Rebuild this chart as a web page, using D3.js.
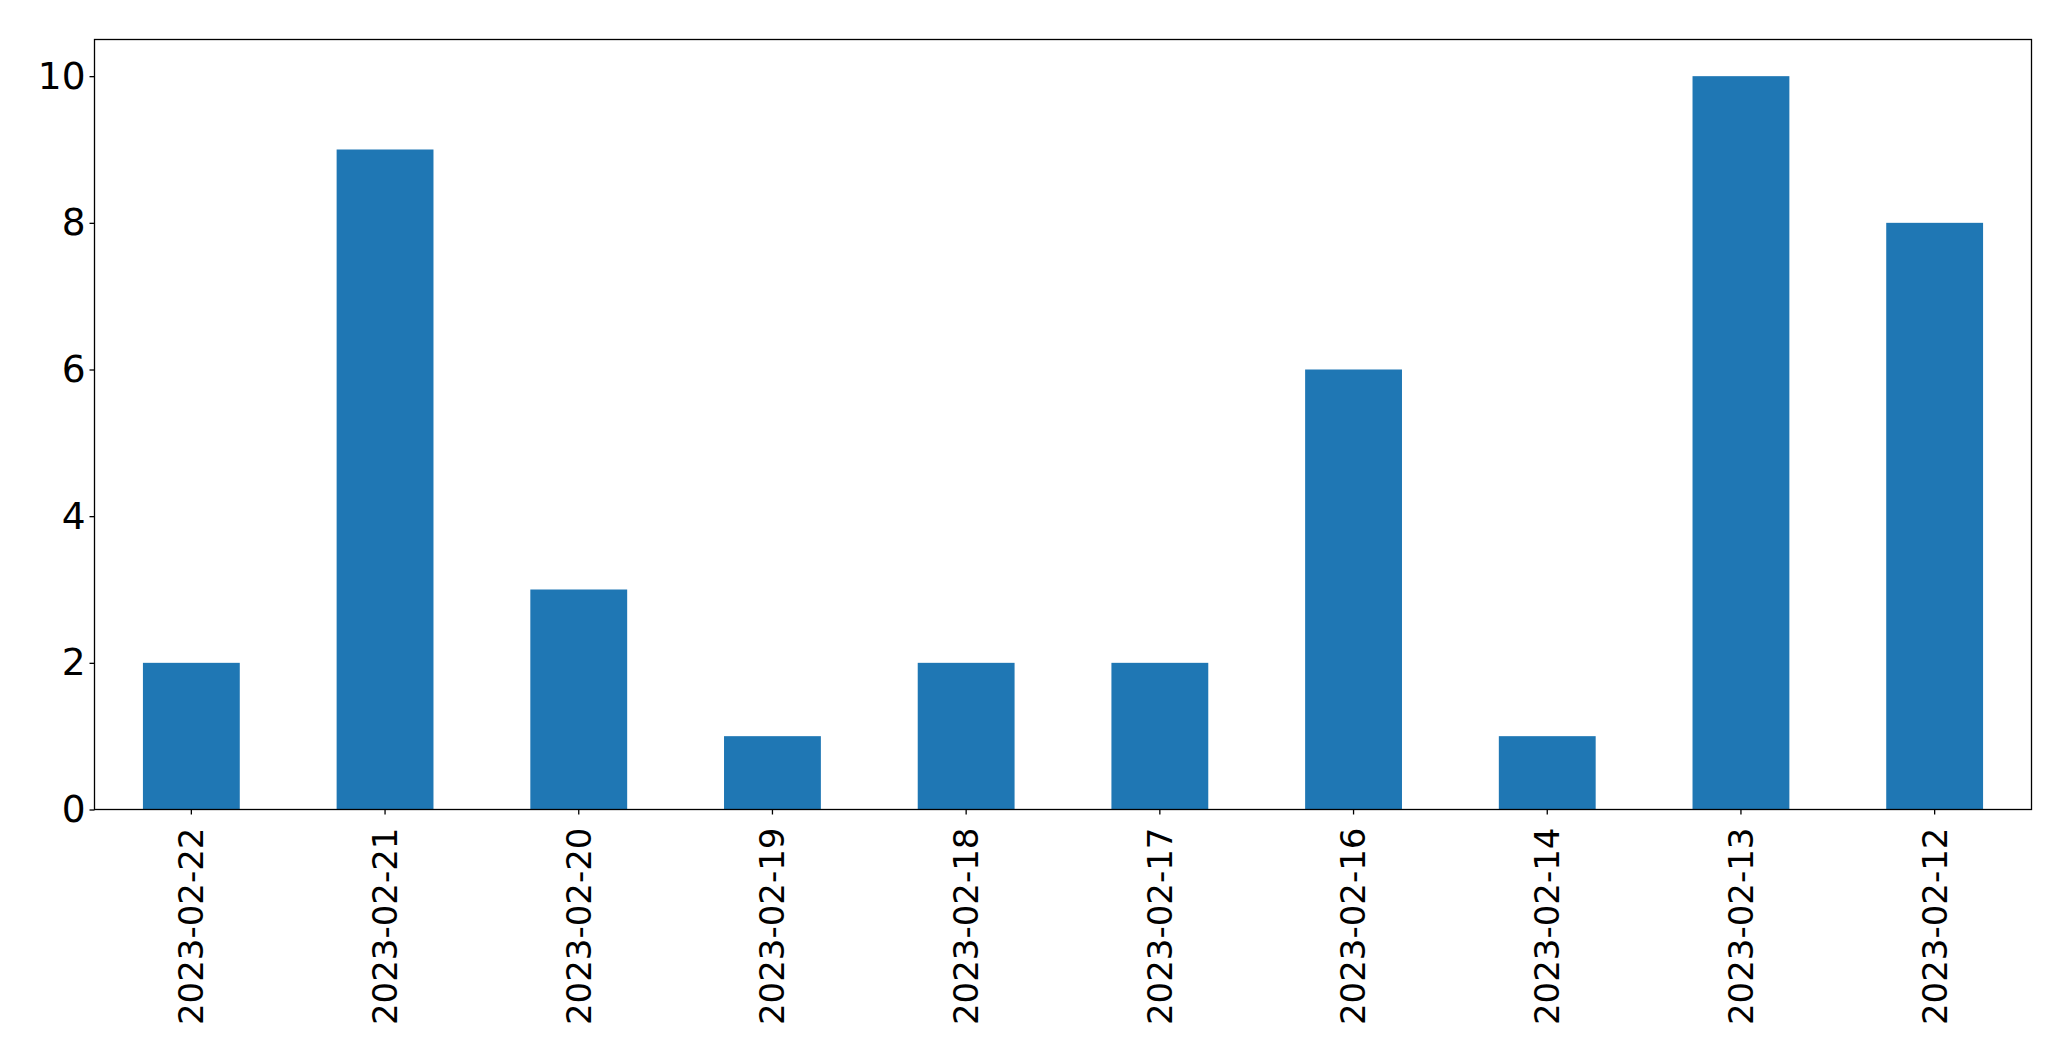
<!DOCTYPE html>
<html><head><meta charset="utf-8">
<script src="https://cdn.jsdelivr.net/npm/d3@7"></script>
<style>body{margin:0;background:#fff}svg{display:block}</style>
</head><body>
<script>
const categories = ["2023-02-22","2023-02-21","2023-02-20","2023-02-19","2023-02-18","2023-02-17","2023-02-16","2023-02-14","2023-02-13","2023-02-12"];
const values = [2,9,3,1,2,2,6,1,10,8];
const yTicks = [0,2,4,6,8,10];

const W = 2071, H = 1061;
const m = {left:94.5, right:2031.5, top:39.5, bottom:809.5};
const svg = d3.select("body").append("svg").attr("width",W).attr("height",H);
const x = d3.scaleBand().domain(categories).range([m.left,m.right]).paddingInner(0.5).paddingOuter(0.25);
const y = d3.scaleLinear().domain([0,10.5]).range([m.bottom,m.top]);
const font = "DejaVu Sans";

svg.append("g").selectAll("rect").data(values).join("rect")
  .attr("x",(d,i)=>x(categories[i]))
  .attr("width",x.bandwidth())
  .attr("y",d=>y(d))
  .attr("height",d=>y(0)-y(d))
  .attr("fill","#1f77b4");

const ya = svg.append("g").attr("transform",`translate(${m.left},0)`)
  .call(d3.axisLeft(y).tickValues(yTicks).tickFormat(d3.format("d")).tickSize(5).tickPadding(4));
ya.select(".domain").remove();
ya.selectAll("text").attr("font-family",font).attr("font-size",37.5).attr("fill","#000");
ya.selectAll("line").attr("stroke","#000").attr("stroke-width",1.3);

const xa = svg.append("g").attr("transform",`translate(0,${m.bottom})`)
  .call(d3.axisBottom(x).tickSize(5).tickPadding(0));
xa.select(".domain").remove();
xa.selectAll("line").attr("stroke","#000").attr("stroke-width",1.3);
xa.selectAll("text").attr("font-family",font).attr("font-size",34).attr("fill","#000")
  .attr("transform","translate(0,18) rotate(-90)")
  .attr("text-anchor","end").attr("dy","0.35em").attr("x",0).attr("y",0);

svg.append("rect").attr("x",m.left).attr("y",m.top).attr("width",m.right-m.left).attr("height",m.bottom-m.top)
  .attr("fill","none").attr("stroke","#000").attr("stroke-width",1.3);
</script>
</body></html>
